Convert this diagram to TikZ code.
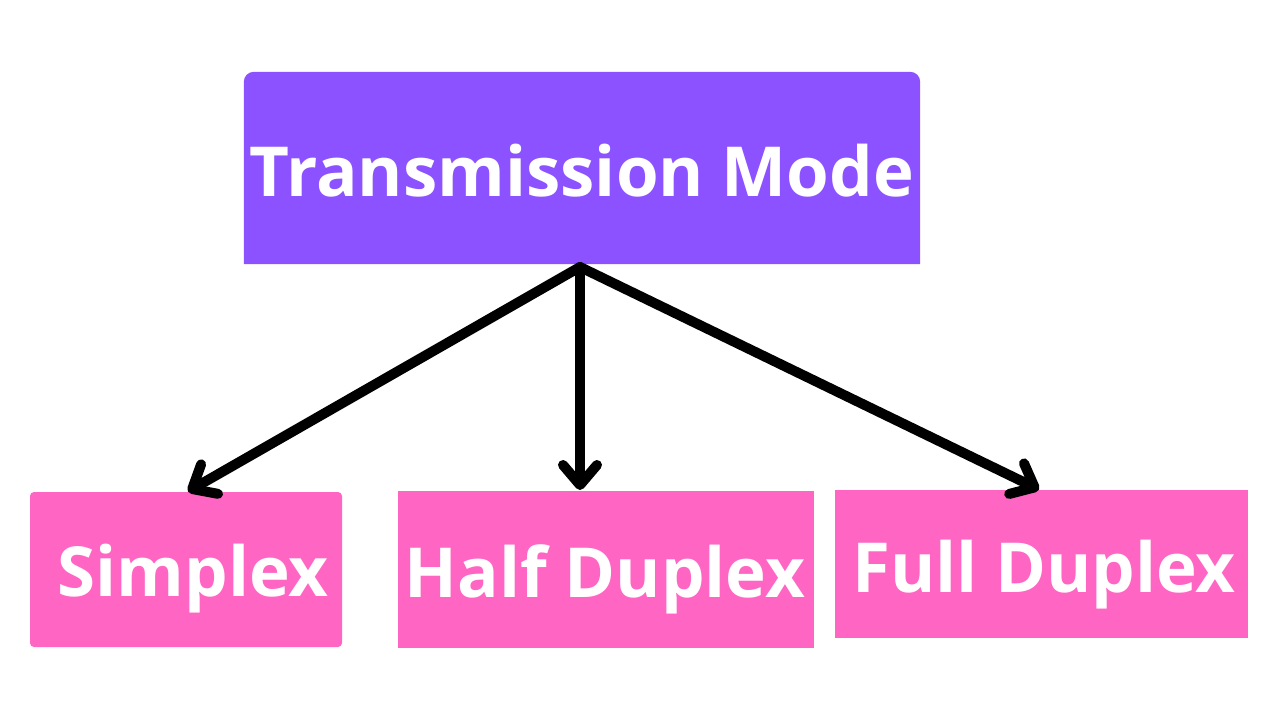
\documentclass[tikz,border=0pt]{standalone}
\usepackage{fontspec}
\setmainfont{Open Sans}
\usetikzlibrary{arrows.meta}
\definecolor{tmpurple}{HTML}{8C52FF}
\definecolor{tmpink}{HTML}{FF66C4}
\tikzset{
  lbl/.style={anchor=base, text=white, font=\fontsize{69}{80}\selectfont\bfseries, inner sep=0pt},
  conn/.style={line width=10pt, line cap=round, -{Straight Barb[length=20pt,width=34pt,round]}, shorten >=1pt}
}
\begin{document}
\begin{tikzpicture}[x=1pt,y=-1pt]
\useasboundingbox (0,0) rectangle (1280,720);
% top box
\node[inner sep=0pt, minimum width=676pt, minimum height=192pt] (tm) at (582,168) {};
\fill[tmpurple] (tm.south west) [rounded corners=10pt] -- (tm.north west) -- (tm.north east) [sharp corners] -- (tm.south east) -- cycle;
\node[lbl] (tmt) at (582,196) {Transmission Mode};
% lower boxes
\node[fill=tmpink, rounded corners=4pt, inner sep=0pt, minimum width=312pt, minimum height=155pt] (sx) at (186,569.5) {};
\node[fill=tmpink, inner sep=0pt, minimum width=416pt, minimum height=157pt] (hd) at (606,569.5) {};
\node[fill=tmpink, inner sep=0pt, minimum width=413pt, minimum height=148pt] (fd) at (1041.5,564) {};
\node[lbl] (sxt) at (193,596) {Simplex};
\node[lbl] (hdt) at (605,597) {Half Duplex};
\node[lbl] (fdt) at (1044,592) {Full Duplex};
% connectors
\coordinate (src) at (580,267);
\coordinate (hdtop) at (580,491);
\coordinate (sxtop) at (187,492);
\coordinate (fdtop) at (1040,490);
\draw[conn] (src) -- (sxtop);
\draw[conn] (src) -- (hdtop);
\draw[conn] (src) -- (fdtop);
\end{tikzpicture}
\end{document}
